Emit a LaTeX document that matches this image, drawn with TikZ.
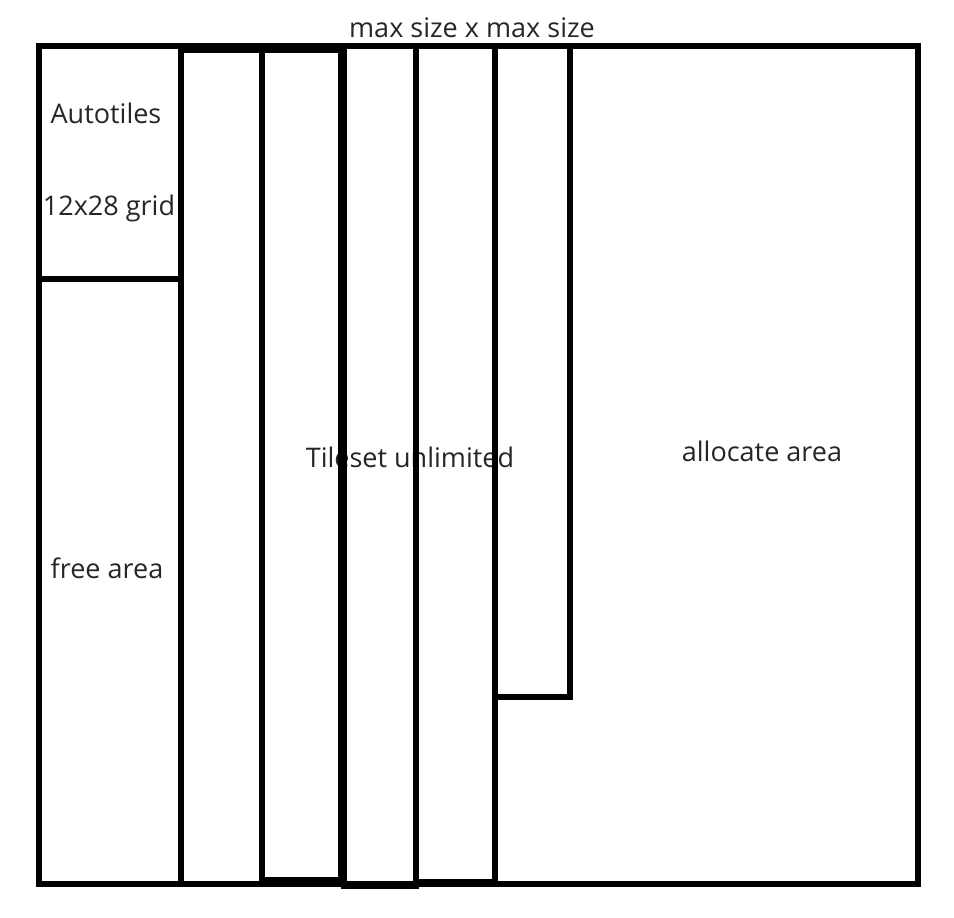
\documentclass[tikz,border=0pt]{standalone}
\usepackage{fontspec}
\setmainfont{Open Sans}
\begin{document}
\begin{tikzpicture}[
    x=1pt, y=-1pt,
    box/.style={draw, line width=5.3pt},
    lbl/.style={font=\fontsize{27}{31}\selectfont, text=black!85, inner sep=0pt, anchor=base},
]
    \useasboundingbox (0,0) rectangle (954,918);
    % Labels
    \node[lbl] (title) at (472,37) {max size x max size};
    \node[lbl] (autotiles) at (106,123) {Autotiles};
    \node[lbl] (grid) at (109,215) {12x28 grid};
    \node[lbl] (free) at (107,578) {free area};
    \node[lbl] (tileset) at (410,467) {Tileset unlimited};
    \node[lbl] (alloc) at (762,461) {allocate area};
    % Outer area
    \draw[box] (39,46) rectangle (918,884);
    % Autotiles block
    \draw[box] (39,46) rectangle (181,279);
    % Tileset columns
    \draw[box] (181,50) rectangle (262,884);
    \draw[box] (262,50) rectangle (341,880);
    \draw[box] (344,46) rectangle (416,886);
    \draw[box] (416,46) rectangle (495,882);
    \draw[box] (495,46) rectangle (570,697);
\end{tikzpicture}
\end{document}
